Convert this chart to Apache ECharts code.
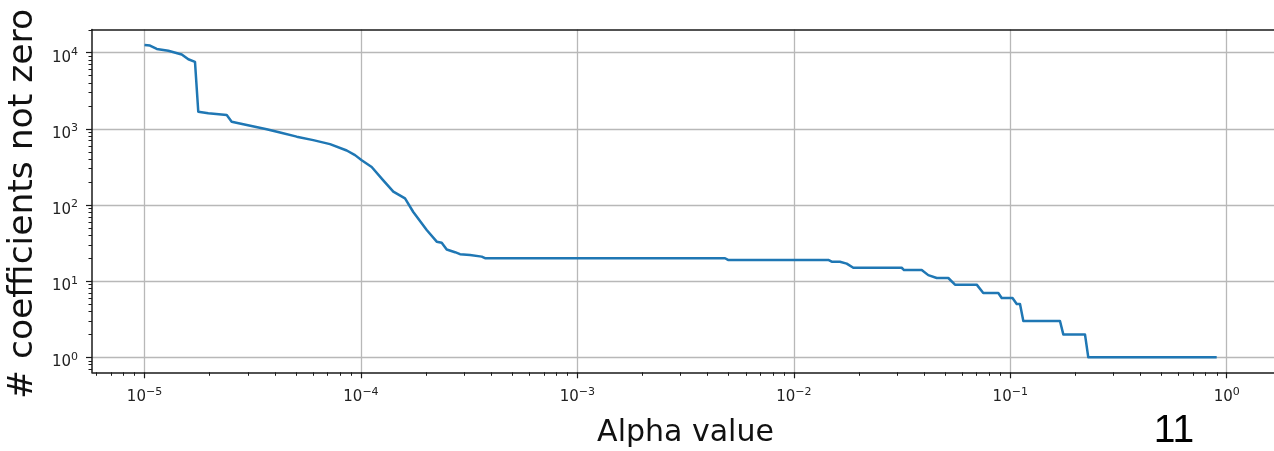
<!DOCTYPE html>
<html><head><meta charset="utf-8">
<script src="https://cdn.jsdelivr.net/npm/echarts@6/dist/echarts.min.js"></script>
<style>html,body{margin:0;padding:0;background:#fff;overflow:hidden}#c{width:1274px;height:451px}</style>
</head><body><div id="c"></div>
<script>
// ---- data ----
const alphaValues = [1.000e-5, 1.060e-5, 1.139e-5, 1.288e-5, 1.486e-5, 1.594e-5, 1.711e-5, 1.772e-5, 1.971e-5, 2.398e-5,
  2.528e-5, 2.860e-5, 3.669e-5, 4.230e-5, 5.048e-5, 6.020e-5, 7.195e-5, 8.596e-5, 9.390e-5, 1.008e-4,
  1.121e-4, 1.265e-4, 1.411e-4, 1.598e-4, 1.745e-4, 2.013e-4, 2.239e-4, 2.361e-4, 2.490e-4, 2.721e-4,
  2.869e-4, 3.191e-4, 3.614e-4, 3.743e-4, 4.810e-3, 4.965e-3, 1.443e-2, 1.496e-2, 1.633e-2, 1.755e-2,
  1.883e-2, 3.150e-2, 3.229e-2, 3.898e-2, 4.180e-2, 4.572e-2, 5.172e-2, 5.554e-2, 6.997e-2, 7.503e-2,
  8.804e-2, 9.128e-2, 0.1024, 0.1071, 0.1109, 0.1149, 0.1697, 0.1758, 0.2214, 0.2293, 0.899];
const nonZeroCounts = [12600, 12400, 11200, 10600, 9500, 8200, 7600, 1680, 1600, 1520,
  1240, 1150, 990, 898, 790, 711, 630, 520, 452, 388,
  316, 212, 150, 122, 81, 47, 33, 32, 26, 24,
  22.6, 22, 21, 20, 20, 19, 19, 18, 18, 17,
  15, 15, 14, 14, 12, 11, 11, 9, 9, 7,
  7, 6, 6, 5, 5, 3, 3, 2, 2, 1, 1];
const xMajorTicks = [1e-5, 1e-4, 1e-3, 1e-2, 1e-1, 1];
const yMajorTicks = [1, 10, 100, 1000, 10000];
const xTitle = 'Alpha value';
const yTitle = '# coefficients not zero';
const pageNumber = '11';

// axis ranges (log10 bounds of the plotting box)
const X_MIN = Math.pow(10, -5.2426), X_MAX = Math.pow(10, 0.2416);
const Y_MIN = Math.pow(10, -0.197), Y_MAX = Math.pow(10, 4.305);

function minorTicks(lo, hi) {
  const out = [];
  for (let e = -7; e <= 5; e++) for (let m = 2; m <= 9; m++) {
    const v = m * Math.pow(10, e);
    if (v > lo && v < hi) out.push(v);
  }
  return out;
}
const xMinorTicks = minorTicks(X_MIN, X_MAX);
const yMinorTicks = minorTicks(Y_MIN, Y_MAX);

const seriesData = alphaValues.map((a, i) => [a, nonZeroCounts[i]]);

const MINUS = '\u2212';
function powLabel(v) {
  const e = Math.round(Math.log10(v));
  return '{b|10}{s|' + (e < 0 ? MINUS + (-e) : e) + '}';
}
const richStyle = {
  b: { fontFamily: 'DejaVu Sans', fontSize: 15, lineHeight: 16, color: '#222', padding: [6, 0, 0, 0] },
  s: { fontFamily: 'DejaVu Sans', fontSize: 11, lineHeight: 12, color: '#222', verticalAlign: 'top' }
};
const GRID = { left: 92, right: -5, top: 29.5, bottom: 78.7, outerBoundsMode: 'none' };
const AX = '#1a1a1a';

const chart = echarts.init(document.getElementById('c'), null, { renderer: 'canvas' });
chart.setOption({
  animation: false,
  backgroundColor: '#ffffff',
  grid: [Object.assign({}, GRID), Object.assign({}, GRID)],
  xAxis: [
    {
      gridIndex: 0, type: 'log', logBase: 10, min: X_MIN, max: X_MAX, position: 'bottom',
      name: xTitle, nameLocation: 'middle', nameGap: 46,
      nameTextStyle: { fontFamily: 'DejaVu Sans', fontSize: 30, color: '#111' },
      axisLine: { show: true, lineStyle: { color: AX, width: 1.5 } },
      axisTick: { show: true, length: 6, lineStyle: { color: AX, width: 1.2 }, customValues: xMajorTicks },
      axisLabel: { show: true, margin: 14, customValues: xMajorTicks, formatter: powLabel, rich: richStyle },
      splitLine: { show: true, lineStyle: { color: '#b8b8b8', width: 1.3 } },
      minorTick: { show: false }
    },
    {
      gridIndex: 0, type: 'log', logBase: 10, min: X_MIN, max: X_MAX, position: 'top',
      axisLine: { show: true, lineStyle: { color: AX, width: 1.5 } },
      axisTick: { show: false }, axisLabel: { show: false }, splitLine: { show: false }
    },
    {
      gridIndex: 1, type: 'log', logBase: 10, min: X_MIN, max: X_MAX, position: 'bottom',
      axisLine: { show: false },
      axisTick: { show: true, length: 3.5, lineStyle: { color: AX, width: 1 }, customValues: xMinorTicks },
      axisLabel: { show: false }, splitLine: { show: false }
    }
  ],
  yAxis: [
    {
      gridIndex: 0, type: 'log', logBase: 10, min: Y_MIN, max: Y_MAX, position: 'left',
      name: yTitle, nameLocation: 'middle', nameGap: 47,
      nameTextStyle: { fontFamily: 'DejaVu Sans', fontSize: 34.5, color: '#111', padding: [0, 6, 0, 0] },
      axisLine: { show: true, lineStyle: { color: AX, width: 1.5 } },
      axisTick: { show: true, length: 6, lineStyle: { color: AX, width: 1.2 }, customValues: yMajorTicks },
      axisLabel: { show: true, margin: 14, padding: [4, 0, 0, 0], customValues: yMajorTicks, formatter: powLabel, rich: richStyle },
      splitLine: { show: true, lineStyle: { color: '#b8b8b8', width: 1.3 } }
    },
    {
      gridIndex: 1, type: 'log', logBase: 10, min: Y_MIN, max: Y_MAX, position: 'left',
      axisLine: { show: false },
      axisTick: { show: true, length: 3.5, lineStyle: { color: AX, width: 1 }, customValues: yMinorTicks },
      axisLabel: { show: false }, splitLine: { show: false }
    }
  ],
  series: [{
    type: 'line', xAxisIndex: 0, yAxisIndex: 0, data: seriesData,
    showSymbol: false, symbol: 'none', clip: true, z: 5,
    lineStyle: { color: '#1f77b4', width: 2.5, join: 'round' }
  }],
  graphic: [{
    type: 'text', x: 1174, y: 431, z: 10,
    style: { text: pageNumber, fontFamily: 'Liberation Sans', fontSize: 39, fill: '#000', align: 'center', verticalAlign: 'middle' }
  }]
});
</script>
</body></html>
